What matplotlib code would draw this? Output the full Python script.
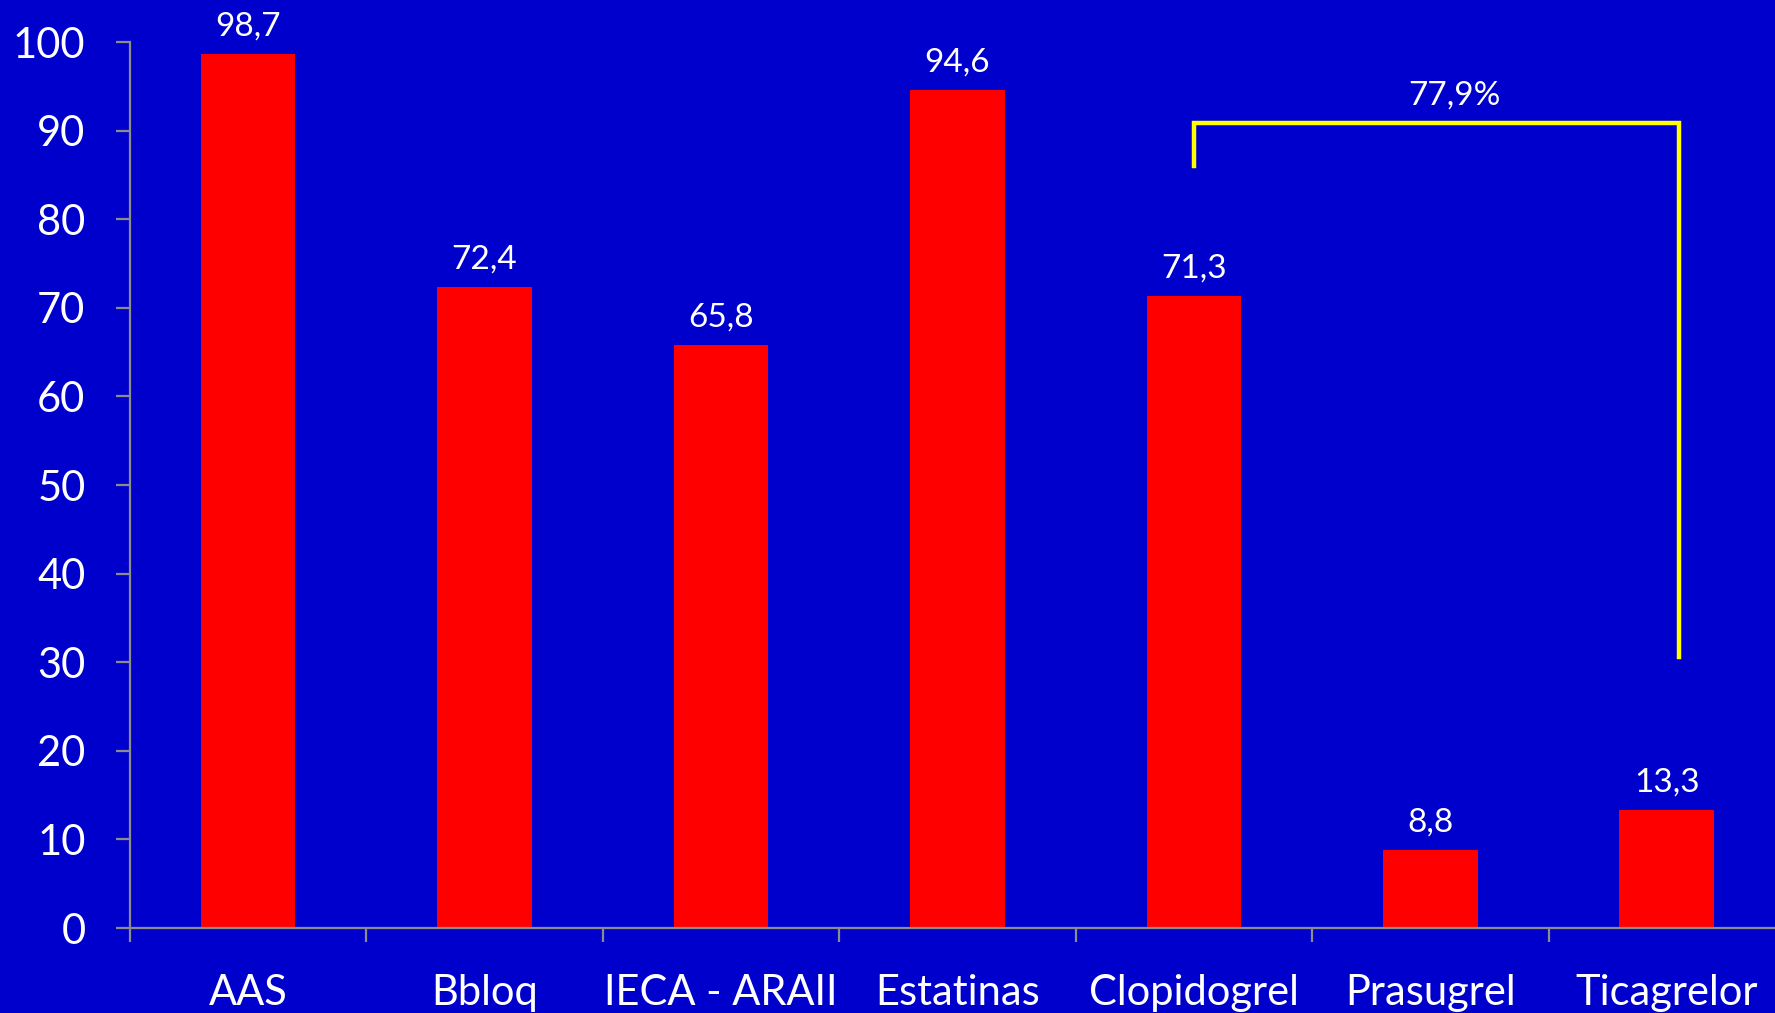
import matplotlib
matplotlib.use("Agg")
import matplotlib.pyplot as plt
import numpy as np

# treatment usage (%)
farmacos = ["AAS", "Bbloq", "IECA - ARAII", "Estatinas",
            "Clopidogrel", "Prasugrel", "Ticagrelor"]
valores = [98.7, 72.4, 65.8, 94.6, 71.3, 8.8, 13.3]
etiquetas = ["98,7", "72,4", "65,8", "94,6", "71,3", "8,8", "13,3"]
yticks = [0, 10, 20, 30, 40, 50, 60, 70, 80, 90, 100]

# bracket between clopidogrel and ticagrelor
bracket_x = [4.0, 4.0, 6.05, 6.05]
bracket_y = [86, 90.9, 90.9, 30.6]
bracket_label = "77,9%"

plt.rcParams['font.family'] = ['Lato', 'DejaVu Sans']
fondo = "#0000CC"
gris = "#8C8C8C"

fig = plt.figure(figsize=(17.75, 10.13), dpi=100, facecolor=fondo)
ax = fig.add_axes([0.0732, 0.0839, 0.9324, 0.8746])
ax.set_facecolor(fondo)

x = np.arange(len(farmacos))
ax.bar(x, valores, width=0.40, color="#FF0000", zorder=2)

for xi, v, t in zip(x, valores, etiquetas):
    ax.annotate(t, (xi, v), xytext=(0, 9), textcoords="offset points",
                ha="center", va="bottom", color="white", fontsize=24,
                annotation_clip=False)

ax.plot(bracket_x, bracket_y, color="#FFFF00", lw=3.2,
        solid_joinstyle="miter", zorder=3, clip_on=False)
ax.text(5.1, 92.3, bracket_label, ha="center", va="bottom",
        color="white", fontsize=24)

ax.set_xlim(-0.5, 6.5)
ax.set_ylim(0, 100)
ax.set_yticks(yticks)
ax.set_xticks(x)
ax.set_xticklabels(farmacos)
ax.set_xticks(np.arange(-0.5, 7, 1), minor=True)

for s in ["top", "right"]:
    ax.spines[s].set_visible(False)
for s in ["left", "bottom"]:
    ax.spines[s].set_color(gris)
    ax.spines[s].set_linewidth(1.6)

ax.tick_params(axis="y", colors=gris, labelcolor="white", labelsize=30,
               length=10, width=1.6, pad=22)
ax.tick_params(axis="x", which="major", length=0, labelcolor="white",
               labelsize=30, pad=33)
ax.tick_params(axis="x", which="minor", colors=gris, length=10, width=1.6)

fig.savefig("out.png", dpi=100, facecolor=fondo)
